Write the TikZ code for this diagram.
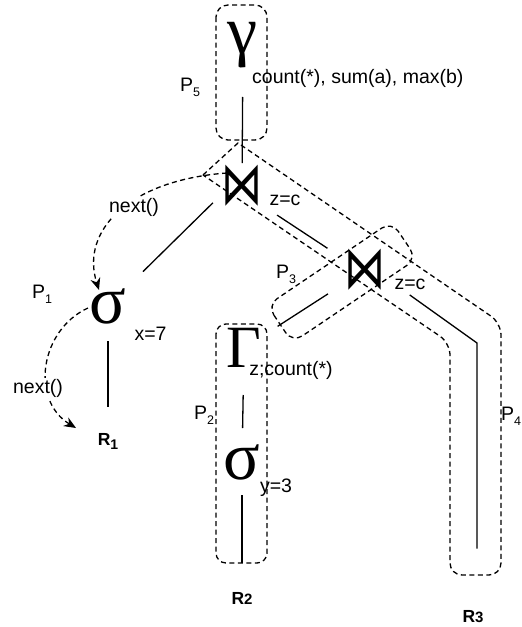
\documentclass[tikz,border=0pt]{standalone}
\usepackage{fontspec}
\setmainfont{Liberation Sans}
\newfontfamily\greekf{Liberation Serif}
\newfontfamily\symf{DejaVu Sans}
\usetikzlibrary{arrows.meta}
\newcommand\psub[1]{P\raisebox{-5pt}{\fontsize{12.5}{13}\selectfont #1}}
\tikzset{
  conn/.style={line width=1.3pt},
  grp/.style={line width=1.3pt, dash pattern=on 5pt off 3.5pt},
  big/.style={inner sep=0pt, font=\greekf\fontsize{68}{68}\selectfont},
  joinop/.style={inner sep=0pt, font=\symf\fontsize{50}{50}\selectfont},
  lbl/.style={inner sep=0pt, font=\fontsize{19.5}{22}\selectfont},
  rel/.style={inner sep=0pt, font=\bfseries\fontsize{17.5}{19}\selectfont},
  nxt/.style={lbl, fill=white, inner sep=1pt},
  call/.style={line width=1.3pt, dash pattern=on 5pt off 3.5pt, -{Stealth[length=12pt,width=10pt]}},
}
\begin{document}
\begin{tikzpicture}[x=1pt,y=-1pt]
\useasboundingbox (0,0) rectangle (522,627);
% group boxes
\draw[grp, rounded corners=12pt] (216,5) rectangle (267,140);
\draw[grp, rounded corners=10pt] (216,324) rectangle (267,563);
\draw[grp] (203,175) -- (238,143) [rounded corners=12pt] -- (501,323) -- (501,575) -- (450,575) -- (450,343) [sharp corners] -- cycle;
\draw[grp, rounded corners=12pt, rotate around={34:(342,282)}] (267,259.5) rectangle (417,304.5);
% operators
\node[big] (gam) at (243,45) {γ};
\node[joinop] (j1) at (242,186) {\scalebox{0.82}[1.2]{⋈}};
\node[joinop] (j2) at (365,270) {\scalebox{0.82}[1.2]{⋈}};
\node[big] (s1) at (108,306) {σ};
\node[big, font=\greekf\fontsize{60}{60}\selectfont] (G) at (244,348) {Γ};
\node[big] (s2) at (242,462) {σ};
\node[rel] (R1) at (108,441) {R\raisebox{-4pt}{\fontsize{14}{15}\selectfont 1}};
\node[rel] (R2) at (242,598) {R{\fontsize{15}{15}\selectfont 2}};
\node[rel] (R3) at (473,617) {R{\fontsize{15}{15}\selectfont 3}};
% labels
\node[lbl, anchor=west] (agg) at (252,78) {count(*), sum(a), max(b)};
\node[lbl] (c1) at (285,200) {z=c};
\node[lbl] (c2) at (410,284) {z=c};
\node[lbl] (c3) at (150.5,333.5) {x=7};
\node[lbl] (c4) at (291,370) {z;count(*)};
\node[lbl] (c5) at (276,488) {y=3};
\node[lbl] (p5) at (190,87.5) {\psub{5}};
\node[lbl] (p1) at (42,294) {\psub{1}};
\node[lbl] (p3) at (286,274) {\psub{3}};
\node[lbl] (p2) at (204,415) {\psub{2}};
\node[lbl] (p4) at (511,416) {\psub{4}};
% connectors
\draw[conn, shorten <=52pt, shorten >=23pt] (gam.center) -- (j1.center);
\draw[conn, shorten <=49pt, shorten >=24pt] (s1.center) -- ([xshift=-12pt]j1.center);
\draw[conn, shorten <=42pt, shorten >=45pt] ([yshift=-6pt]j1.center) -- ([yshift=-3pt]j2.center);
\draw[conn, shorten <=44pt, shorten >=40pt] (j2.center) -- (G.center);
\coordinate (bend) at (477,343);
\draw[conn, shorten <=55pt, shorten >=62pt] ([yshift=7pt]j2.center) -- (bend) -- (bend |- R3.north);
\draw[conn, shorten <=47pt, shorten >=34pt] (G.center) -- (s2.center);
\draw[conn, shorten <=33pt, shorten >=35pt] (s2.center) -- (R2.center);
\draw[conn, shorten <=35pt, shorten >=34pt] (s1.center) -- (R1.center);
% next() calls
\coordinate (tip2) at (76,428);
\draw[call] ([xshift=-15pt,yshift=13pt]j1.center) .. controls (130,180) and (80,230) .. ([xshift=-9pt,yshift=16pt]s1.center);
\draw[call] ([xshift=-20pt,yshift=-2pt]s1.center) .. controls (40,330) and (30,400) .. (tip2);
\node[nxt] (n1) at (134,207.5) {next()};
\node[nxt] (n2) at (38,388) {next()};
\end{tikzpicture}
\end{document}
